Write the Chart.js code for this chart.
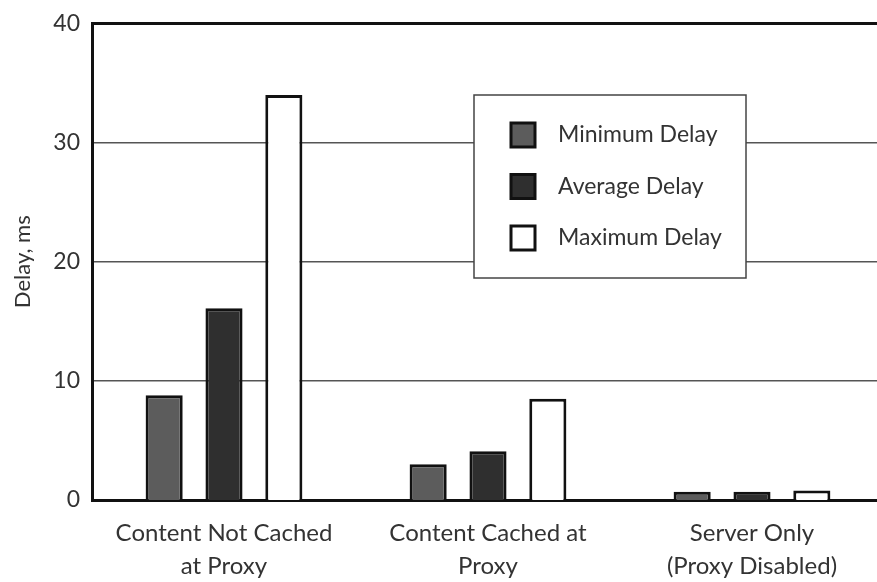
<!DOCTYPE html>
<html>
<head>
<meta charset="utf-8">
<script src="https://cdn.jsdelivr.net/npm/chart.js@4/dist/chart.umd.min.js"></script>
<style>
  html, body { margin: 0; padding: 0; background: #fff; overflow: hidden; }
  #wrap { width: 884px; height: 582px; }
</style>
</head>
<body>
<div id="wrap"><canvas id="delayChart"></canvas></div>
<script>
// values
const categories = [
    ["Content Not Cached", "at Proxy"],
    ["Content Cached at", "Proxy"],
    ["Server Only", "(Proxy Disabled)"]
];
const seriesNames = ["Minimum Delay", "Average Delay", "Maximum Delay"];
const minDelay = [8.8, 3.0, 0.7];
const avgDelay = [16.1, 4.1, 0.7];
const maxDelay = [34.0, 8.5, 0.8];
const yTicks = [0, 10, 20, 30, 40];

const fills = ["#5c5c5c", "#2f2f2f", "#ffffff"];
const fontFamily = "Lato, 'Open Sans', sans-serif";

// legend box inside the plot, top right
const boxLegend = {
    id: "boxLegend",
    afterDraw(chart) {
        const ctx = chart.ctx;
        const x = 474, y = 95, w = 272, h = 183;
        ctx.save();
        ctx.fillStyle = "#fff";
        ctx.fillRect(x, y, w, h);
        ctx.strokeStyle = "#444";
        ctx.lineWidth = 1.5;
        ctx.strokeRect(x, y, w, h);
        ctx.font = "23px " + fontFamily;
        ctx.textBaseline = "middle";
        chart.data.datasets.forEach(function (ds, i) {
            const cy = y + 40 + i * 51.5;
            ctx.fillStyle = ds.backgroundColor;
            ctx.fillRect(x + 37, cy - 12, 24, 24);
            ctx.strokeStyle = "#111";
            ctx.lineWidth = 3;
            ctx.strokeRect(x + 37, cy - 12, 24, 24);
            ctx.fillStyle = "#333";
            ctx.fillText(ds.label, x + 84, cy);
        });
        ctx.restore();
    }
};

const ctx = document.getElementById("delayChart").getContext("2d");

new Chart(ctx, {
    type: "bar",
    data: {
        labels: categories,
        datasets: [
            { label: seriesNames[0], data: minDelay, backgroundColor: fills[0] },
            { label: seriesNames[1], data: avgDelay, backgroundColor: fills[1] },
            { label: seriesNames[2], data: maxDelay, backgroundColor: fills[2] }
        ].map(function (d) {
            d.borderColor = "#111";
            d.borderWidth = 3;
            d.categoryPercentage = 0.68;
            d.barPercentage = 0.62;
            return d;
        })
    },
    options: {
        responsive: true,
        maintainAspectRatio: false,
        animation: false,
        layout: { padding: { top: 20, right: 0, bottom: 0, left: 0 } },
        plugins: {
            legend: { display: false },
            tooltip: { enabled: false }
        },
        scales: {
            x: {
                grid: { display: false, drawTicks: false },
                border: { color: "#111", width: 3 },
                ticks: {
                    color: "#333",
                    font: { family: fontFamily, size: 24, lineHeight: 1.4 },
                    padding: 16,
                    maxRotation: 0
                },
                afterFit(scale) { scale.height = 82; }
            },
            y: {
                min: 0,
                max: 40,
                afterBuildTicks(scale) {
                    scale.ticks = yTicks.map(function (v) { return { value: v }; });
                },
                grid: {
                    drawTicks: false,
                    color(c) { return c.tick && c.tick.value === 40 ? "#111" : "#555"; },
                    lineWidth(c) {
                        if (!c.tick) return 1.5;
                        if (c.tick.value === 40) return 3;
                        if (c.tick.value === 0) return 0;
                        return 1.5;
                    }
                },
                border: { color: "#111", width: 3 },
                ticks: {
                    color: "#333",
                    font: { family: fontFamily, size: 23, lineHeight: 1 },
                    padding: 12
                },
                title: {
                    display: true,
                    text: "Delay, ms",
                    color: "#333",
                    font: { family: fontFamily, size: 22 },
                    padding: { top: 10, bottom: 0 }
                },
                afterFit(scale) { scale.width = 92; }
            }
        }
    },
    plugins: [boxLegend]
});
</script>
</body>
</html>
